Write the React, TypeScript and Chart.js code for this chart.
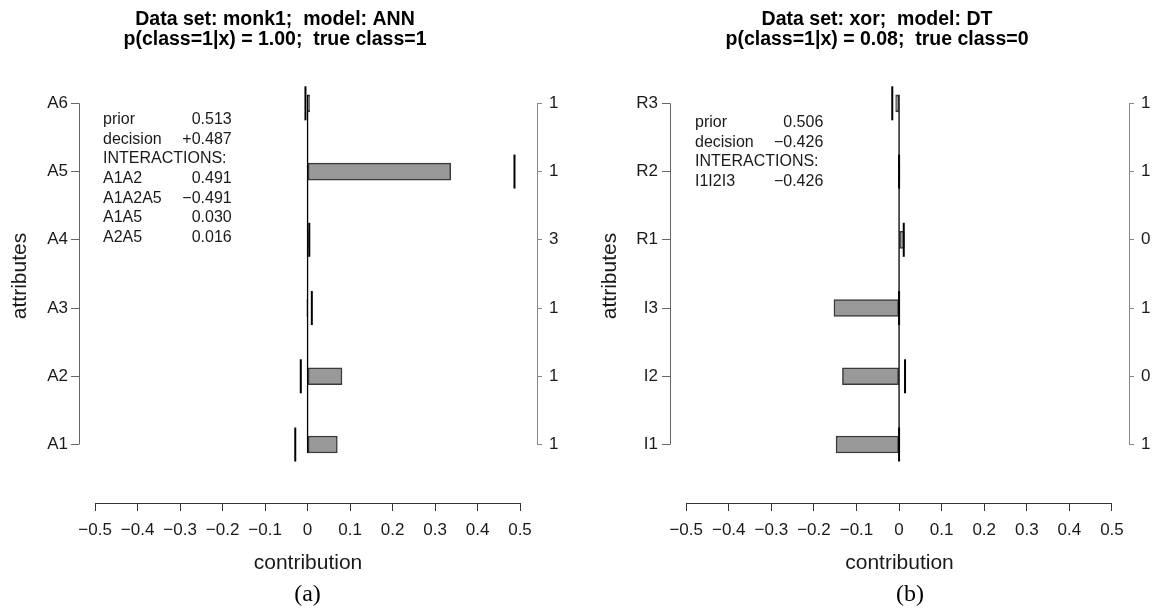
import React, { useEffect, useRef } from 'react';
import { Chart, registerables } from 'chart.js';

Chart.register(...registerables);

// ---------- DATA ----------
// Panel (a)
const monkAttributes = ['A6', 'A5', 'A4', 'A3', 'A2', 'A1'];
const monkContributions = [0.005, 0.337, 0.002, -0.002, 0.081, 0.07];
const monkExplanations = [-0.005, 0.487, 0.004, 0.01, -0.016, -0.029];
const monkAttrValues = ['1', '1', '3', '1', '1', '1'];
const monkInfoLabels = ['prior', 'decision', 'INTERACTIONS:', 'A1A2', 'A1A2A5', 'A1A5', 'A2A5'];
const monkInfoValues = ['0.513', '+0.487', '', '0.491', '\u22120.491', '0.030', '0.016'];
const monkTitle = ['Data set: monk1;  model: ANN', 'p(class=1|x) = 1.00;  true class=1'];
const monkCaption = '(a)';

// Panel (b)
const xorAttributes = ['R3', 'R2', 'R1', 'I3', 'I2', 'I1'];
const xorContributions = [-0.008, 0.002, 0.012, -0.153, -0.133, -0.148];
const xorExplanations = [-0.016, 0.0, 0.011, 0.0, 0.014, 0.0];
const xorAttrValues = ['1', '1', '0', '1', '0', '1'];
const xorInfoLabels = ['prior', 'decision', 'INTERACTIONS:', 'I1I2I3'];
const xorInfoValues = ['0.506', '\u22120.426', '', '\u22120.426'];
const xorTitle = ['Data set: xor;  model: DT', 'p(class=1|x) = 0.08;  true class=0'];
const xorCaption = '(b)';

// Axis ranges / tick settings
const xAxisFirstTick = -0.5;
const xAxisLastTick = 0.5;
const xTickStep = 0.1;
const xAxisTitle = 'contribution';
const yAxisTitle = 'attributes';

// ---------- LAYOUT / STYLE ----------
const H = 613;
const SANS = "'Liberation Sans', Arial, Helvetica, sans-serif";
const SERIF = "'Liberation Serif', 'DejaVu Serif', serif";
const TXT = '#1a1a1a';
const X_MIN = -0.538;
const X_MAX = 0.54;
const Y_MIN = -0.857;
const Y_MAX = 5.796;
const BAR_PX = 17;

Chart.defaults.font.family = SANS;
Chart.defaults.color = TXT;

type PanelCfg = {
  attributes: string[];
  contributions: number[];
  explanations: number[];
  attrValues: string[];
  infoLabels: string[];
  infoValues: string[];
  title: string[];
  caption: string;
  canvasLeft: number;
  canvasWidth: number;
  padLeft: number;
  padRight: number;
  yLeftWidth: number;
  yRightWidth: number;
  yTitlePad: number;
  yLeftPad: number;
  infoDx: number;
  infoValDx: number;
  infoTop: number;
  captionX: number;
};

const fmtX = (v: number) => {
  if (Math.abs(v) < 1e-9) return '0';
  return (v < 0 ? '\u2212' : '') + Math.abs(v).toFixed(1);
};

function decorPlugin(cfg: PanelCfg) {
  const n = cfg.attributes.length;
  return {
    id: 'decor',
    afterDatasetsDraw(chart: any) {
      const { ctx, scales } = chart;
      const xs = scales.x;
      const ys = scales.y;
      const x0 = xs.getPixelForValue(0);
      const yTop = ys.getPixelForValue(n - 1) - BAR_PX / 2;
      const yBot = ys.getPixelForValue(0) + BAR_PX / 2;
      ctx.save();
      ctx.strokeStyle = '#000';
      ctx.lineWidth = 1.3;
      ctx.beginPath();
      ctx.moveTo(x0, yTop);
      ctx.lineTo(x0, yBot);
      ctx.stroke();
      ctx.restore();
    },
    afterDraw(chart: any) {
      const { ctx, chartArea, scales } = chart;
      const xs = scales.x;
      const ys = scales.y;
      const yA = ys.getPixelForValue(n - 1);
      const yB = ys.getPixelForValue(0);
      const al = (v: number) => Math.round(v) + 0.5;
      ctx.save();
      ctx.lineWidth = 1;
      // left y axis line
      ctx.strokeStyle = '#666';
      ctx.beginPath();
      ctx.moveTo(al(chartArea.left), yA);
      ctx.lineTo(al(chartArea.left), yB);
      ctx.stroke();
      // right y axis line
      ctx.strokeStyle = '#888';
      ctx.beginPath();
      ctx.moveTo(al(chartArea.right), yA);
      ctx.lineTo(al(chartArea.right), yB);
      ctx.stroke();
      // x axis line
      ctx.strokeStyle = '#333';
      ctx.beginPath();
      ctx.moveTo(xs.getPixelForValue(xAxisFirstTick), al(chartArea.bottom));
      ctx.lineTo(xs.getPixelForValue(xAxisLastTick), al(chartArea.bottom));
      ctx.stroke();

      // info text box
      ctx.fillStyle = TXT;
      ctx.font = `16px ${SANS}`;
      ctx.textBaseline = 'middle';
      const lx = chartArea.left + cfg.infoDx;
      const rx = chartArea.left + cfg.infoValDx;
      cfg.infoLabels.forEach((lab, i) => {
        const yy = cfg.infoTop + i * 19.7;
        ctx.textAlign = 'left';
        ctx.fillText(lab, lx, yy);
        if (cfg.infoValues[i]) {
          ctx.textAlign = 'right';
          ctx.fillText(cfg.infoValues[i], rx, yy);
        }
      });

      // caption
      ctx.font = `24px ${SERIF}`;
      ctx.textAlign = 'center';
      ctx.fillStyle = '#000';
      ctx.fillText(cfg.caption, cfg.captionX - cfg.canvasLeft, 595);
      ctx.restore();
    },
  };
}

function buildConfig(cfg: PanelCfg): any {
  const n = cfg.attributes.length;
  const pos = (i: number) => n - 1 - i;
  return {
    type: 'bar',
    data: {
      datasets: [
        {
          type: 'bar',
          data: cfg.contributions.map((v, i) => ({ x: v, y: pos(i) })),
          backgroundColor: '#999999',
          borderColor: '#3a3a3a',
          borderWidth: 1.5,
          borderSkipped: false,
          barThickness: BAR_PX,
          order: 2,
        },
        {
          type: 'scatter',
          data: cfg.explanations.map((v, i) => ({ x: v, y: pos(i) })),
          pointStyle: 'line',
          pointRotation: 90,
          pointRadius: 17,
          pointHoverRadius: 17,
          pointBorderColor: '#000',
          pointBorderWidth: 2,
          pointBackgroundColor: '#000',
          order: 1,
        },
      ],
    },
    options: {
      indexAxis: 'y',
      responsive: false,
      animation: false,
      events: [],
      devicePixelRatio: 1,
      layout: { padding: { left: cfg.padLeft, right: cfg.padRight, top: 0, bottom: 30 } },
      plugins: {
        legend: { display: false },
        tooltip: { enabled: false },
        title: {
          display: true,
          text: cfg.title,
          color: '#000',
          font: { family: SANS, size: 19.5, weight: 'bold', lineHeight: '19.5px' },
          padding: { top: 10, bottom: 0 },
        },
      },
      scales: {
        x: {
          type: 'linear',
          position: 'bottom',
          offset: false,
          min: X_MIN,
          max: X_MAX,
          ticks: {
            stepSize: xTickStep,
            includeBounds: false,
            autoSkip: false,
            maxRotation: 0,
            minRotation: 0,
            padding: 9,
            font: { size: 17 },
            color: TXT,
            callback: (v: number) => fmtX(v),
          },
          grid: { display: true, offset: false, drawOnChartArea: false, drawTicks: true, tickLength: 8, tickColor: '#333', tickWidth: 1 },
          border: { display: false },
          title: { display: true, text: xAxisTitle, font: { size: 21 }, color: TXT, padding: { top: 0, bottom: 7 } },
          afterFit: (s: any) => {
            s.height = 80;
          },
        },
        y: {
          type: 'linear',
          position: 'left',
          offset: false,
          min: Y_MIN,
          max: Y_MAX,
          ticks: {
            stepSize: 1,
            includeBounds: false,
            autoSkip: false,
            padding: cfg.yLeftPad,
            font: { size: 17 },
            color: TXT,
            callback: (v: number) => cfg.attributes[n - 1 - Math.round(v)] ?? '',
          },
          grid: { display: true, offset: false, drawOnChartArea: false, drawTicks: true, tickLength: 8, tickColor: '#666', tickWidth: 1 },
          border: { display: false },
          title: { display: true, text: yAxisTitle, font: { size: 21 }, color: TXT, padding: { top: cfg.yTitlePad, bottom: 0 } },
          afterFit: (s: any) => {
            s.width = cfg.yLeftWidth;
          },
        },
        y2: {
          type: 'linear',
          position: 'right',
          offset: false,
          min: Y_MIN,
          max: Y_MAX,
          ticks: {
            stepSize: 1,
            includeBounds: false,
            autoSkip: false,
            padding: 7,
            font: { size: 17 },
            color: TXT,
            callback: (v: number) => cfg.attrValues[n - 1 - Math.round(v)] ?? '',
          },
          grid: { display: true, offset: false, drawOnChartArea: false, drawTicks: true, tickLength: 5, tickColor: '#888', tickWidth: 1 },
          border: { display: false },
          afterFit: (s: any) => {
            s.width = cfg.yRightWidth;
          },
        },
      },
    },
    plugins: [decorPlugin(cfg)],
  };
}

const panels: PanelCfg[] = [
  {
    attributes: monkAttributes,
    contributions: monkContributions,
    explanations: monkExplanations,
    attrValues: monkAttrValues,
    infoLabels: monkInfoLabels,
    infoValues: monkInfoValues,
    title: monkTitle,
    caption: monkCaption,
    canvasLeft: -12,
    canvasWidth: 574,
    padLeft: 0,
    padRight: 0,
    yLeftWidth: 91,
    yRightWidth: 25,
    yTitlePad: 20,
    yLeftPad: 3,
    infoDx: 24,
    infoValDx: 152.7,
    infoTop: 119.5,
    captionX: 307.5,
  },
  {
    attributes: xorAttributes,
    contributions: xorContributions,
    explanations: xorExplanations,
    attrValues: xorAttrValues,
    infoLabels: xorInfoLabels,
    infoValues: xorInfoValues,
    title: xorTitle,
    caption: xorCaption,
    canvasLeft: 578,
    canvasWidth: 579,
    padLeft: 19,
    padRight: 0,
    yLeftWidth: 73,
    yRightWidth: 28,
    yTitlePad: 0.5,
    yLeftPad: 4,
    infoDx: 25,
    infoValDx: 153.3,
    infoTop: 122.5,
    captionX: 910,
  },
];

function Panel({ cfg }: { cfg: PanelCfg }) {
  const ref = useRef<HTMLCanvasElement>(null);
  useEffect(() => {
    if (!ref.current) return;
    const chart = new Chart(ref.current, buildConfig(cfg));
    return () => chart.destroy();
  }, [cfg]);
  return (
    <canvas
      ref={ref}
      width={cfg.canvasWidth}
      height={H}
      style={{ position: 'absolute', left: cfg.canvasLeft, top: 0, width: cfg.canvasWidth, height: H }}
    />
  );
}

export default function App() {
  return (
    <div style={{ position: 'absolute', left: 0, top: 0, width: 1157, height: H, background: '#fff', overflow: 'hidden' }}>
      {panels.map((p, i) => (
        <Panel key={i} cfg={p} />
      ))}
    </div>
  );
}
